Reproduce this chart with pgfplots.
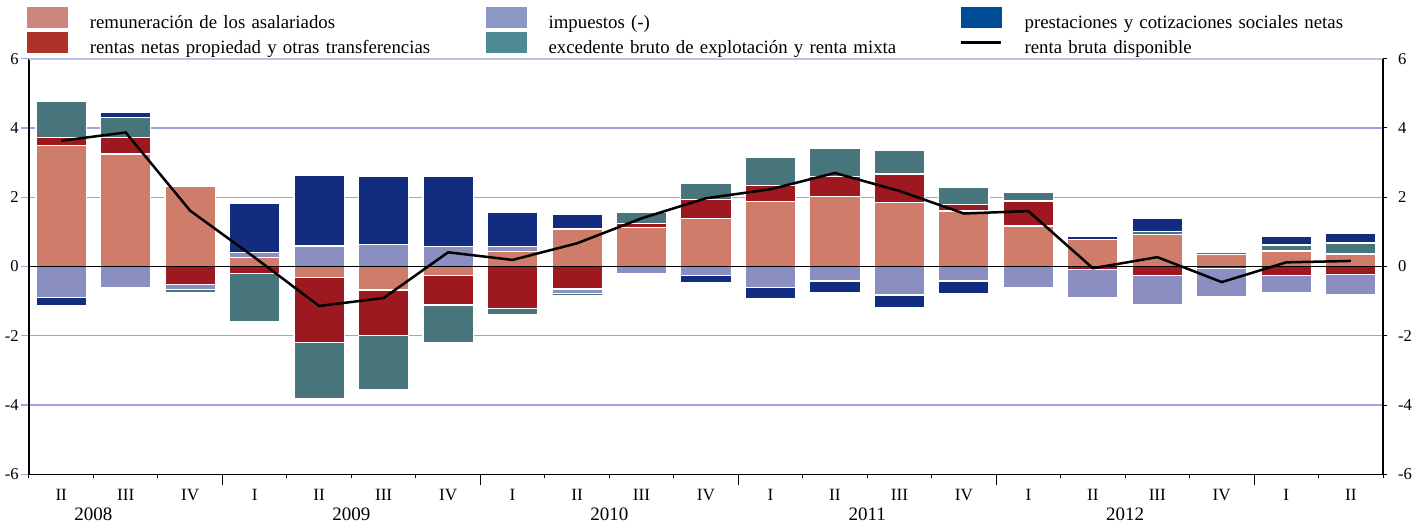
\documentclass[border=0pt]{standalone}
\usepackage{fontspec}
\setmainfont{Liberation Serif}
\usepackage{pgfplots}
\pgfplotsset{compat=1.18}
\usepackage{pgfplotstable}

\definecolor{cRem}{RGB}{207,125,106}
\definecolor{cRen}{RGB}{157,25,31}
\definecolor{cImp}{RGB}{138,142,192}
\definecolor{cExc}{RGB}{72,116,123}
\definecolor{cPre}{RGB}{18,45,128}
\definecolor{lRem}{RGB}{205,135,127}
\definecolor{lRen}{RGB}{172,50,42}
\definecolor{lImp}{RGB}{138,152,196}
\definecolor{lExc}{RGB}{78,137,148}
\definecolor{lPre}{RGB}{0,75,150}
\definecolor{gridc}{RGB}{158,163,224}
\definecolor{gridt}{RGB}{190,192,228}

\newcommand\fa{\fontsize{8.3}{9}\selectfont}
\newcommand\fq{\fontsize{8.6}{9}\selectfont}
\newcommand\fy{\fontsize{9.5}{11}\selectfont}
\newcommand\fl{\fontsize{9.4}{11}\selectfont}

\pgfplotstableread{
x   rem   ren   imp   exc   pre
0   3.49  0.23  0     1.06  0
1   3.25  0.48  0     0.57  0.15
2   2.30  0     0     0     0.05
3   0.26  0     0.15  0     1.41
4   0     0     0.59  0     2.05
5   0     0     0.64  0     1.97
6   0     0     0.57  0     2.04
7   0.43  0     0.14  0     0.99
8   1.08  0     0     0     0.41
9   1.12  0.13  0     0.32  0
10  1.39  0.55  0     0.45  0
11  1.88  0.46  0     0.80  0
12  2.03  0.58  0     0.81  0
13  1.85  0.82  0     0.67  0
14  1.60  0.20  0     0.48  0
15  1.17  0.72  0     0.25  0
16  0.79  0     0     0     0.08
17  0.92  0     0     0.08  0.38
18  0.35  0     0     0.05  0
19  0.45  0     0     0.17  0.25
20  0.36  0     0     0.32  0.28
}\postab

\pgfplotstableread{
x   rem    ren    imp    exc    pre
0   0      0      -0.89  0      -0.25
1   0      0      -0.60  0      0
2   0      -0.53  -0.13  -0.09  0
3   0      -0.20  0      -1.40  0
4   -0.31  -1.88  0      -1.62  0
5   -0.68  -1.31  0      -1.56  0
6   -0.25  -0.86  0      -1.09  0
7   0      -1.21  0      -0.19  0
8   0      -0.65  -0.14  -0.04  0
9   0      0      -0.21  0      0
10  0      0      -0.27  0      -0.19
11  0      0      -0.61  0      -0.33
12  0      0      -0.42  0      -0.32
13  0      0      -0.82  0      -0.36
14  0      0      -0.42  0      -0.35
15  0      0      -0.60  0      0
16  0      -0.08  -0.82  0      0
17  0      -0.25  -0.86  0      0
18  0      -0.05  -0.82  0      0
19  0      -0.26  -0.50  0      0
20  0      -0.23  -0.59  0      0
}\negtab

\pgfplotstableread{
x   rbd
0   3.63
1   3.87
2   1.61
3   0.26
4   -1.14
5   -0.91
6   0.41
7   0.19
8   0.67
9   1.39
10  1.97
11  2.23
12  2.70
13  2.18
14  1.53
15  1.60
16  -0.05
17  0.27
18  -0.45
19  0.12
20  0.16
}\linetab

\pgfplotsset{
  base/.style={
    scale only axis, width=677pt, height=207.8pt,
    xmin=-0.5, xmax=20.5, ymin=-6, ymax=6,
    at={(0,0)}, anchor=south west,
    /pgf/number format/assume math mode=true,
  },
  bsty/.style={draw=white, line width=0.6pt},
}

\begin{document}
\begin{tikzpicture}
% axis 1: grid, positive bars, legend, left labels, quarter labels
\begin{axis}[base, ybar stacked, bar width=0.78,
  axis x line*=bottom, axis y line*=left,
  axis line style={-, black, line width=0.6pt},
  ytick={-6,-4,...,6},
  ymajorgrids,
  grid style={draw=gridc, line width=0.7pt},
  major grid style={draw=gridc, line width=0.7pt},
  ytick style={draw=gridc, line width=0.7pt},
  tick align=outside, major tick length=4pt,
  yticklabel style={font=\fa, inner sep=1pt},
  xtick={0,...,20},
  xticklabels={II,III,IV,I,II,III,IV,I,II,III,IV,I,II,III,IV,I,II,III,IV,I,II},
  xtick style={draw=none},
  xticklabel style={font=\fq},
  legend columns=3,
  legend cell align=left,
  legend style={draw=none, fill=none, inner sep=0pt, outer sep=0pt,
    at={(0,1)}, anchor=north west, xshift=-1pt, yshift=25.85pt,
    font=\fl, row sep=0.5pt,
    /tikz/every odd column/.append style={column sep=11pt},
    /tikz/every even column/.append style={column sep=8pt},
    nodes={inner sep=0pt}},
]
\addlegendimage{legend image code/.code={\fill[lRem] (0pt,-2pt) rectangle (20pt,8pt);}}
\addlegendentry[text width=190pt]{remuneración de los asalariados}
\addlegendimage{legend image code/.code={\fill[lImp] (0pt,-2pt) rectangle (20pt,8pt);}}
\addlegendentry[text width=197.5pt]{impuestos (-)}
\addlegendimage{legend image code/.code={\fill[lPre] (0pt,-2pt) rectangle (20pt,8pt);}}
\addlegendentry[text width=175pt]{prestaciones y cotizaciones sociales netas}
\addlegendimage{legend image code/.code={\fill[lRen] (0pt,-2pt) rectangle (20pt,8pt);}}
\addlegendentry[text width=190pt]{rentas netas propiedad y otras transferencias}
\addlegendimage{legend image code/.code={\fill[lExc] (0pt,-2pt) rectangle (20pt,8pt);}}
\addlegendentry[text width=197.5pt]{excedente bruto de explotación y renta mixta}
\addlegendimage{legend image code/.code={\draw[black, line width=1.5pt] (0pt,3pt) -- (20pt,3pt);}}
\addlegendentry[text width=175pt]{renta bruta disponible}

\addplot[bsty, fill=cRem] table[x=x, y=rem] {\postab};
\addplot[bsty, fill=cRen] table[x=x, y=ren] {\postab};
\addplot[bsty, fill=cImp] table[x=x, y=imp] {\postab};
\addplot[bsty, fill=cExc] table[x=x, y=exc] {\postab};
\addplot[bsty, fill=cPre] table[x=x, y=pre] {\postab};
\end{axis}

% axis 2: negative bars, year labels, top grid line
\begin{axis}[base, ybar stacked, bar width=0.78,
  axis line style={draw=none},
  ytick=\empty,
  extra y ticks={6}, extra y tick labels={},
  extra y tick style={grid=major, major grid style={draw=gridt, line width=1pt}, tick style={draw=none}},
  xtick={0.5,4.5,8.5,12.5,16.5},
  xticklabels={2008,2009,2010,2011,2012},
  xtick style={draw=none},
  xticklabel style={font=\fy, yshift=-13pt},
]
\addplot[bsty, fill=cRem] table[x=x, y=rem] {\negtab};
\addplot[bsty, fill=cRen] table[x=x, y=ren] {\negtab};
\addplot[bsty, fill=cImp] table[x=x, y=imp] {\negtab};
\addplot[bsty, fill=cExc] table[x=x, y=exc] {\negtab};
\addplot[bsty, fill=cPre] table[x=x, y=pre] {\negtab};
\end{axis}

% axis 3: zero line, income line, right axis, boundary ticks
\begin{axis}[base,
  axis x line*=bottom, axis y line*=right,
  axis line style={-, black, line width=0.6pt},
  xtick={-0.5,0.5,...,20.5}, xticklabels={},
  extra x ticks={2.5,6.5,10.5,14.5,18.5}, extra x tick labels={},
  extra x tick style={major tick length=5.5pt},
  ytick={-6,-4,...,6}, ytick pos=right, yticklabel pos=right, xtick pos=bottom,
  tick align=outside, major tick length=2pt, tick style={black, line width=0.5pt},
  yticklabel style={font=\fa, xshift=2pt},
]
\addplot[black, line width=0.75pt] coordinates {(-0.5,0) (20.5,0)};
\addplot[black, line width=1.25pt] table[x=x, y=rbd] {\linetab};
\end{axis}

\pgfresetboundingbox
\path[use as bounding box] (-14.5pt,-25.85pt) rectangle (697pt,237.15pt);
\end{tikzpicture}
\end{document}
